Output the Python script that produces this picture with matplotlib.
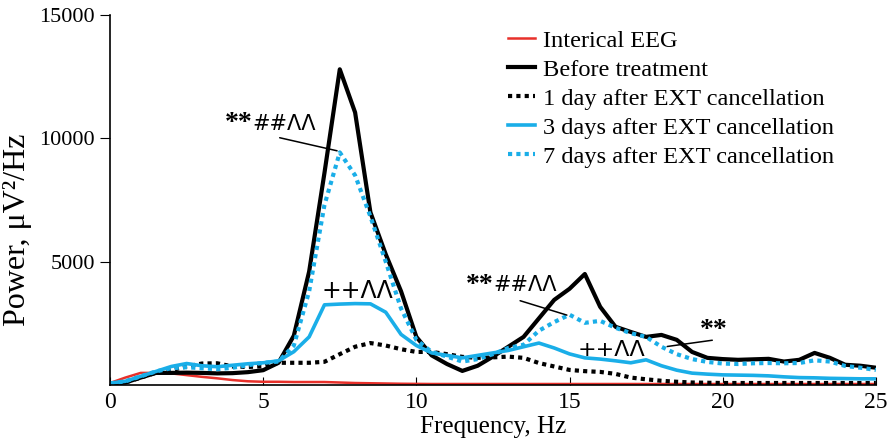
import numpy as np
import matplotlib
matplotlib.use("Agg")
import matplotlib.pyplot as plt

plt.rcParams['font.family'] = ['Liberation Serif', 'DejaVu Serif']

freq = np.arange(0, 25.5, 0.5)

interical = [80, 300, 490, 490, 470, 400, 330, 270, 200, 150,
             130, 130, 120, 120, 120, 100, 80, 70, 60, 50,
             45, 40, 40, 40, 40, 40, 40, 40, 40, 40,
             40, 40, 40, 40, 40, 40, 40, 40, 40, 40,
             40, 40, 40, 40, 40, 40, 40, 40, 40, 40, 40]

before = [50, 100, 300, 490, 490, 500, 490, 470, 480, 520,
          600, 900, 2000, 4600, 8600, 12800, 11050, 7000, 5300, 3800,
          1950, 1200, 850, 570, 780, 1150, 1550, 1950, 2700, 3450,
          3900, 4500, 3170, 2360, 2150, 1950, 2030, 1830, 1340, 1100,
          1050, 1020, 1040, 1060, 950, 1020, 1300, 1100, 820, 780, 700]

day1 = [50, 100, 300, 500, 600, 750, 870, 880, 750, 730,
        760, 900, 900, 900, 940, 1250, 1550, 1700, 1600, 1450,
        1340, 1340, 1250, 1140, 1100, 1120, 1150, 1100, 890, 750,
        610, 560, 530, 450, 300, 230, 170, 130, 100, 90,
        80, 80, 80, 80, 80, 80, 80, 80, 80, 80, 80]

day3 = [80, 150, 350, 550, 750, 870, 780, 740, 800, 860,
        900, 980, 1350, 1950, 3250, 3280, 3300, 3290, 2950, 2050,
        1600, 1300, 1200, 1100, 1200, 1300, 1400, 1550, 1700, 1500,
        1260, 1100, 1050, 980, 900, 1020, 780, 600, 480, 440,
        410, 400, 390, 370, 330, 300, 290, 270, 260, 250, 250]

day7 = [50, 150, 350, 550, 680, 720, 680, 640, 700, 800,
        900, 950, 1600, 3800, 7300, 9430, 8500, 6830, 5000, 3100,
        1830, 1340, 1150, 950, 1050, 1250, 1500, 1630, 2200, 2550,
        2850, 2520, 2600, 2320, 2100, 1950, 1550, 1250, 1050, 935,
        870, 850, 880, 890, 880, 890, 1000, 950, 770, 700, 610]

red = '#e8302a'
blue = '#1aaee8'

fig = plt.figure(figsize=(8.91, 4.42), dpi=100)
ax = fig.add_axes([0.1235, 0.129, 0.8595, 0.837])

ax.plot(freq, interical, color=red, lw=1.8, label='Interical EEG')
ax.plot(freq, before, color='black', lw=3, label='Before treatment')
ax.plot(freq, day1, color='black', lw=3, linestyle=(0, (1, 1)),
        label='1 day after EXT cancellation')
ax.plot(freq, day3, color=blue, lw=2.6, label='3 days after EXT cancellation')
ax.plot(freq, day7, color=blue, lw=3, linestyle=(0, (1, 1)),
        label='7 days after EXT cancellation')

ax.set_xlim(0, 25)
ax.set_ylim(0, 15000)
ax.set_xticks([0, 5, 10, 15, 20, 25])
ax.set_yticks([5000, 10000, 15000])
ax.tick_params(axis='x', direction='in', length=6, labelsize=17, pad=5)
ax.tick_params(axis='y', direction='out', length=7, labelsize=16, pad=4)
for s in ['top', 'right']:
    ax.spines[s].set_visible(False)
ax.spines['left'].set_linewidth(1.2)
ax.spines['bottom'].set_linewidth(1.2)

ax.set_xlabel('Frequency, Hz', fontsize=18, labelpad=2)
ax.set_ylabel('Power, μV²/Hz', fontsize=23)
ax.yaxis.set_label_coords(-0.102, 0.42)

ax.legend(loc='upper left', bbox_to_anchor=(0.5, 1.0), frameon=False,
          fontsize=17.6, handlelength=1.1, handletextpad=0.35,
          labelspacing=0.28, borderaxespad=0.2)

sym = ['DejaVu Sans']

# significance marks
def mark(x, y, stars, rest):
    t = ax.text(x, y, stars, fontsize=20, fontweight='bold', va='center')
    ax.annotate(rest, xycoords=t, xy=(1, 0.5), va='center', fontsize=15,
                family=sym)

mark(3.75, 10600, '**', '##ΛΛ')
ax.annotate('', xy=(7.5, 9470), xytext=(5.45, 10050),
            arrowprops=dict(arrowstyle='-', color='black', lw=1.1))
ax.text(6.9, 3820, '++ΛΛ', fontsize=17, va='center', family=sym)

mark(11.6, 4050, '**', '##ΛΛ')
ax.annotate('', xy=(15.0, 2800), xytext=(13.3, 3450),
            arrowprops=dict(arrowstyle='-', color='black', lw=1.1))
ax.text(15.25, 1420, '++ΛΛ', fontsize=16, va='center', family=sym)

ax.text(19.25, 2200, '**', fontsize=20, fontweight='bold', va='center')
ax.annotate('', xy=(18.1, 1545), xytext=(19.75, 1830),
            arrowprops=dict(arrowstyle='-', color='black', lw=1.1))

fig.savefig('out.png', dpi=100)
